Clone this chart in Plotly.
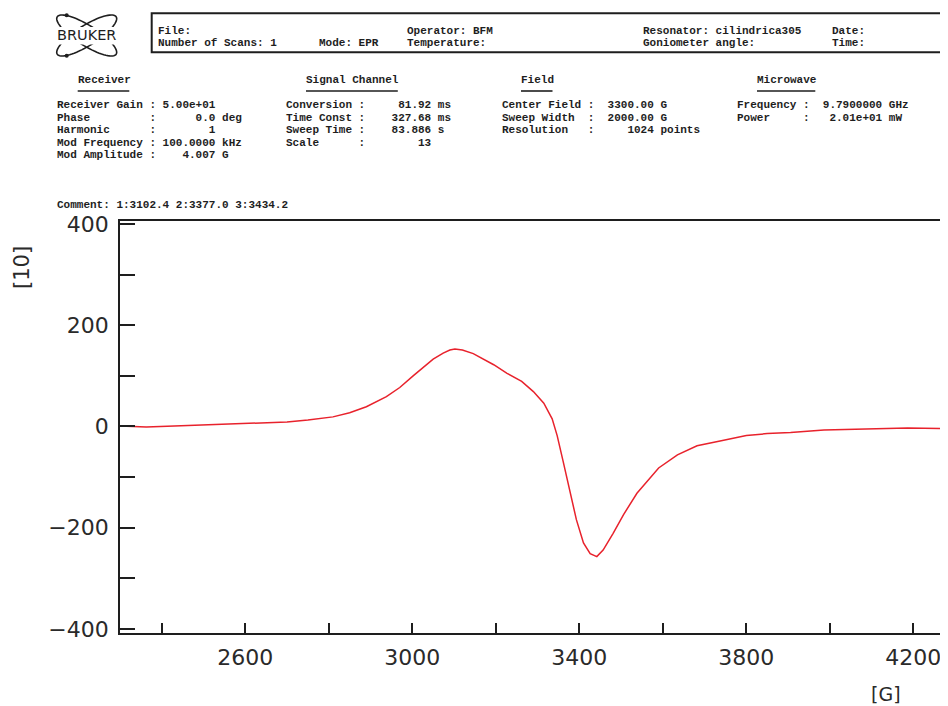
import math
import plotly.graph_objects as go

# ---------------- data ----------------
field_G = [2300, 2363, 2430, 2490, 2550, 2602, 2650, 2700, 2750, 2810, 2850, 2890,
           2938, 2970, 3002, 3030, 3050, 3074, 3090, 3102, 3120, 3146, 3195, 3227,
           3262, 3290, 3315, 3335, 3347, 3361, 3377, 3393, 3410, 3426, 3442, 3457,
           3481, 3506, 3538, 3560, 3590, 3635, 3682, 3740, 3800, 3850, 3906, 3986,
           4050, 4106, 4186, 4283]
signal = [1, -1, 1, 3, 4, 6, 7, 9, 13, 19, 27, 39,
          59, 77, 100, 120, 133, 145, 151, 153, 151, 144, 122, 105,
          89, 69, 46, 15, -18, -68, -125, -184, -230, -251, -257, -244,
          -211, -174, -132, -110, -82, -56, -38, -28, -18, -14, -12, -7,
          -6, -5, -3, -4]

x_tick_vals = [2400, 2600, 2800, 3000, 3200, 3400, 3600, 3800, 4000, 4200]
x_tick_text = ["", "2600", "", "3000", "", "3400", "", "3800", "", "4200"]
y_tick_vals = [-400, -300, -200, -100, 0, 100, 200, 300, 400]
y_tick_text = ["\u2212400", "", "\u2212200", "", "0", "", "200", "", "400"]

header_row1 = [("File:", 156.7), ("Operator: BFM", 406), ("Resonator: cilindrica305", 641.7), ("Date:", 831)]
header_row2 = [("Number of Scans: 1", 156.7), ("Mode: EPR", 318.3), ("Temperature:", 406),
               ("Goniometer angle:", 641.7), ("Time:", 831)]

sections = [
    ("Receiver", 76.7, 56, [
        "Receiver Gain : 5.00e+01",
        "Phase         :      0.0 deg",
        "Harmonic      :        1",
        "Mod Frequency : 100.0000 kHz",
        "Mod Amplitude :    4.007 G",
    ]),
    ("Signal Channel", 305, 285, [
        "Conversion :     81.92 ms",
        "Time Const :    327.68 ms",
        "Sweep Time :    83.886 s",
        "Scale      :        13",
    ]),
    ("Field", 520, 500.7, [
        "Center Field :  3300.00 G",
        "Sweep Width  :  2000.00 G",
        "Resolution   :     1024 points",
    ]),
    ("Microwave", 756, 736, [
        "Frequency :  9.7900000 GHz",
        "Power     :   2.01e+01 mW",
    ]),
]
comment_text = "Comment: 1:3102.4 2:3377.0 3:3434.2"

# ---------------- layout geometry (pixels of the reference) ----------------
OFF = 8                      # page body margin of the html page
W, H = 948 - OFF, 706 - OFF
L, R, T, B = 120, 948, 221, 633
PW, PH = R - L, B - T


def px(x):
    return (x - L) / PW


def py(y):
    return (B - y) / PH


MONO = "Liberation Mono"
INK = "#1e1e1e"
annotations = []
shapes = []


def txt(x, y, s, size=11, family=MONO, weight="bold", anchor="left", angle=0, color=INK):
    annotations.append(dict(
        x=px(x), y=py(y), xref="paper", yref="paper", showarrow=False,
        text=s.replace(" ", "\u00a0"), xanchor=anchor, yanchor="middle",
        textangle=angle, borderpad=0,
        font=dict(family=family, size=size, color=color, weight=weight)))


# header box
shapes.append(dict(type="rect", xref="paper", yref="paper",
                   x0=px(151.7), x1=px(975), y0=py(52.3), y1=py(13.3),
                   line=dict(color=INK, width=2)))
for s, x in header_row1:
    txt(x, 30.5, s)
for s, x in header_row2:
    txt(x, 43, s)

# sections
row_y = [105.3, 117.8, 130.2, 142.7, 155.2]
for title, tx, lx, lines in sections:
    txt(tx, 80, title)
    n = len(title)
    shapes.append(dict(type="line", xref="paper", yref="paper",
                       x0=px(tx + 1), x1=px(tx + n * 6.7 - 1), y0=py(91), y1=py(91),
                       line=dict(color=INK, width=1.6)))
    for i, line in enumerate(lines):
        txt(lx, row_y[i], line)

txt(56, 205, comment_text)

# BRUKER logo: two tilted ellipses, text masks the middle
cx, cy, a, b = 86.7, 35.5, 34.9, 10.05
for th in (32.3, -32.3):
    t = math.radians(th)
    pts = []
    for k in range(73):
        u = 2 * math.pi * k / 72
        ex = cx + a * math.cos(u) * math.cos(t) - b * math.sin(u) * math.sin(t)
        ey = cy + a * math.cos(u) * math.sin(t) + b * math.sin(u) * math.cos(t)
        pts.append(f"{px(ex):.5f},{py(ey):.5f}")
    shapes.append(dict(type="path", xref="paper", yref="paper",
                       path="M" + " L".join(pts) + " Z",
                       line=dict(color=INK, width=1.6)))
shapes.append(dict(type="rect", xref="paper", yref="paper",
                   x0=px(50), x1=px(123), y0=py(44.5), y1=py(27),
                   fillcolor="white", line=dict(width=0)))
for (dx, dy) in ((66.7, 15.2), (66.7, 55.7)):
    shapes.append(dict(type="circle", xref="paper", yref="paper",
                       x0=px(dx - 2), x1=px(dx + 2), y0=py(dy + 2), y1=py(dy - 2),
                       fillcolor=INK, line=dict(width=0)))
txt(86, 35.5, "BRUKER", size=14.5, family="DejaVu Sans", weight="normal", anchor="center")

# axis unit labels
txt(22, 268, "[10]", size=21, family="DejaVu Sans", weight="normal", anchor="center",
    angle=-90, color="#2a2a2a")
txt(886, 694, "[G]", size=19, family="DejaVu Sans", weight="normal", anchor="center",
    color="#2a2a2a")

# ---------------- figure ----------------
fig = go.Figure(go.Scatter(x=field_G, y=signal, mode="lines",
                           line=dict(color="#e8222c", width=1.5), hoverinfo="skip"))

axis_font = dict(family="DejaVu Sans", size=22, color="#2a2a2a")
fig.update_layout(
    width=W, height=H,
    margin=dict(l=L - OFF, r=0, t=T - OFF, b=H - (B - OFF), pad=0),
    paper_bgcolor="white", plot_bgcolor="white",
    showlegend=False,
    annotations=annotations, shapes=shapes,
    xaxis=dict(range=[2300, 4283], tickvals=x_tick_vals, ticktext=x_tick_text,
               ticks="inside", ticklen=10, tickwidth=1.6, tickcolor=INK,
               showline=True, linecolor=INK, linewidth=1.8, mirror=True,
               showgrid=False, zeroline=False, tickfont=axis_font,
               ticklabelstandoff=4),
    yaxis=dict(range=[-407.9, 405.9], tickvals=y_tick_vals, ticktext=y_tick_text,
               ticks="inside", ticklen=15, tickwidth=1.6, tickcolor=INK,
               showline=True, linecolor=INK, linewidth=1.8,
               showgrid=False, zeroline=False, tickfont=axis_font,
               ticklabelstandoff=5),
)

fig.write_html("out.html")
